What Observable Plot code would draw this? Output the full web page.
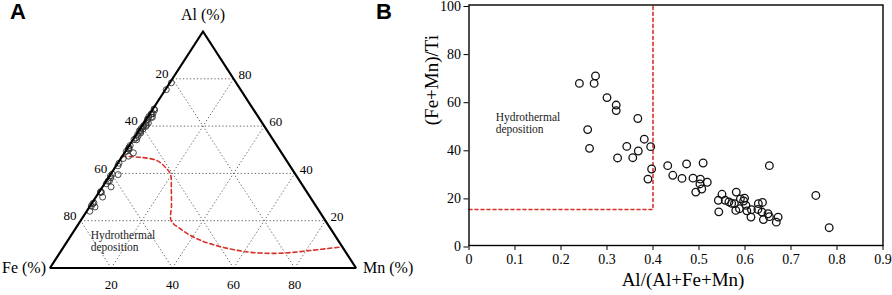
<!DOCTYPE html>
<html>
<head>
<meta charset="utf-8">
<script src="https://cdn.jsdelivr.net/npm/d3@7"></script>
<script src="https://cdn.jsdelivr.net/npm/@observablehq/plot@0.6"></script>
<style>
  html, body { margin: 0; padding: 0; background: #fff; }
  #wrap { position: relative; width: 892px; height: 295px; overflow: hidden; font-family: "Liberation Serif", serif; }
  #wrap svg { position: absolute; top: 0; overflow: visible; }
  .panel-letter { position: absolute; top: -1px; font: bold 22px "Liberation Sans", Arial, sans-serif; color: #000; }
</style>
</head>
<body>
<div id="wrap">
  <div class="panel-letter" style="left:10px">A</div>
  <div class="panel-letter" style="left:376px">B</div>
</div>
<script>
// ---------- data ----------
// Al/(Al+Fe+Mn) for each sample (also the Al fraction of the ternary plot)
const alRatio = [0.240,0.275,0.272,0.300,0.320,0.320,0.367,0.258,0.262,0.381,
                 0.343,0.395,0.368,0.323,0.356,0.397,0.389,0.432,0.473,0.509,
                 0.653,0.443,0.463,0.487,0.503,0.518,0.502,0.506,0.493,0.550,
                 0.542,0.581,0.557,0.565,0.571,0.590,0.599,0.597,0.577,0.580,
                 0.588,0.602,0.604,0.543,0.614,0.613,0.629,0.638,0.628,0.637,
                 0.650,0.653,0.640,0.672,0.668,0.754,0.783];
// (Fe+Mn)/Ti for each sample
const feMnTi = [67.4,70.5,67.4,61.5,58.4,56.1,52.8,48.2,40.4,44.2,
                41.2,41.1,39.3,36.4,36.5,31.8,27.6,33.2,33.9,34.3,
                33.2,29.2,27.9,28.0,27.6,26.3,25.6,23.5,22.2,21.3,
                18.8,22.2,18.8,18.1,17.5,19.4,19.7,18.5,17.4,14.6,
                15.3,16.7,14.4,14.0,14.9,11.8,17.4,17.9,15.0,13.9,
                13.2,12.0,10.8,11.8,9.7,20.8,7.4];
// Mn (%) of each sample in the ternary diagram
const mnPct = [1.0,0.6,0.4,2.2,0.5,0.8,0.6,1.8,0.4,0.8,
               2.8,2.5,1.0,0.4,0.6,0.5,0.3,0.6,2.0,0.4,
               0.6,0.4,0.8,2.9,0.5,0.3,0.7,0.4,0.3,0.6,
               1.2,0.5,0.9,0.4,1.1,0.3,1.4,0.6,0.8,0.2,
               1.0,0.5,1.3,0.3,0.7,1.5,0.4,1.2,0.6,1.6,
               0.5,1.0,0.3,0.4,0.8,0.3,0.5];

// ternary corners (Al, Fe, Mn in %)
const cornerAl = [100, 0, 0];
const cornerMn = [0, 0, 100];
const gridLevels = [20, 40, 60, 80];
// hydrothermal field boundary in the ternary (Al %, Mn %)
const boundAl = [47.2,46.8,45.4,42.5,39.7,32.7,26.4,20.0,16.5,13.0,10.2,7.0,6.2,7.4,8.8];
const boundMn = [0.0,6.2,12.3,16.5,19.5,23.3,26.5,29.6,34.4,40.5,47.4,59.8,71.1,81.4,90.0];

// panel B
const xTicks = [0,0.1,0.2,0.3,0.4,0.5,0.6,0.7,0.8,0.9];
const yTicks = [0,20,40,60,80,100];
const threshX = [0, 0.4, 0.4];
const threshY = [15, 15, 100];

// ---------- helpers ----------
const tx = (al, mn) => mn + al / 2;   // ternary -> cartesian x (0..100)
const ty = (al) => al;                // ternary -> cartesian y (0..100)

const wrap = document.getElementById("wrap");
const serif = "'Liberation Serif', 'Times New Roman', serif";

// ---------- panel A : ternary ----------
const corners = cornerAl.map((a, i) => ({x: tx(a, cornerMn[i]), y: ty(a)}));
const outline = [...corners, corners[0]];

const gridSegs = [];
for (const c of gridLevels) {
  gridSegs.push({x1: tx(c, 0), y1: ty(c), x2: tx(c, 100 - c), y2: ty(c)});               // Al = c
  gridSegs.push({x1: tx(0, 100 - c), y1: ty(0), x2: tx(100 - c, 0), y2: ty(100 - c)});   // Fe = c
  gridSegs.push({x1: tx(0, c), y1: ty(0), x2: tx(100 - c, c), y2: ty(100 - c)});         // Mn = c
}
const feLabels = gridLevels.map(f => ({x: tx(100 - f, 0), y: ty(100 - f), t: String(f)}));
const alLabels = gridLevels.map(a => ({x: tx(a, 100 - a), y: ty(a), t: String(a)}));
const mnLabels = gridLevels.map(m => ({x: tx(0, m), y: ty(0), t: String(m)}));

const ternPts = alRatio.map((r, i) => ({x: tx(r * 100, mnPct[i]), y: ty(r * 100)}));
const boundary = boundAl.map((a, i) => ({x: tx(a, boundMn[i]), y: ty(a)}));

const plotA = Plot.plot({
  width: 370, height: 295,
  marginLeft: 49.5, marginRight: 14.5, marginTop: 31, marginBottom: 27.5,
  x: {domain: [0, 100], axis: null},
  y: {domain: [0, 100], axis: null},
  style: {fontFamily: serif, fontSize: "13px", background: "transparent", color: "#000", overflow: "visible"},
  marks: [
    Plot.link(gridSegs, {x1: "x1", y1: "y1", x2: "x2", y2: "y2", stroke: "#666", strokeWidth: 1, strokeDasharray: "1.3,2.2"}),
    Plot.line(boundary, {x: "x", y: "y", curve: "catmull-rom", stroke: "#d8312a", strokeWidth: 1.6, strokeDasharray: "4,3"}),
    Plot.dot(ternPts, {x: "x", y: "y", r: 3, stroke: "#333", strokeWidth: 0.9, fill: "none"}),
    Plot.line(outline, {x: "x", y: "y", stroke: "#000", strokeWidth: 2.2, strokeLinejoin: "miter"}),
    Plot.text(feLabels, {x: "x", y: "y", text: "t", textAnchor: "end", dx: -4, dy: -5, fontSize: 13}),
    Plot.text(alLabels, {x: "x", y: "y", text: "t", textAnchor: "start", dx: 5, dy: -4, fontSize: 13}),
    Plot.text(mnLabels, {x: "x", y: "y", text: "t", textAnchor: "middle", dy: 17, fontSize: 13}),
    Plot.text(["Al (%)"], {x: tx(100, 0), y: ty(100), text: d => d, dy: -17, fontSize: 16}),
    Plot.text(["Fe (%)"], {x: tx(0, 0), y: ty(0), text: d => d, textAnchor: "end", dx: -4, fontSize: 16}),
    Plot.text(["Mn (%)"], {x: tx(0, 100), y: ty(0), text: d => d, textAnchor: "start", dx: 7, fontSize: 16}),
    Plot.text(["Hydrothermal\ndeposition"], {x: 13.3, y: 11.2, text: d => d, textAnchor: "start", lineAnchor: "middle", lineHeight: 1.05, fontSize: 11.5, fill: "#222"})
  ]
});
plotA.style.left = "0px";
wrap.appendChild(plotA);

// ---------- panel B : scatter ----------
const samples = alRatio.map((r, i) => ({x: r, y: feMnTi[i]}));
const thresh = threshX.map((x, i) => ({x, y: threshY[i]}));

const plotB = Plot.plot({
  width: 522, height: 295,
  marginLeft: 98.5, marginRight: 9.5, marginTop: 4.5, marginBottom: 50,
  x: {domain: [0, 0.9]},
  y: {domain: [0, 100]},
  style: {fontFamily: serif, fontSize: "14px", background: "transparent", color: "#000", overflow: "visible"},
  marks: [
    Plot.line(thresh, {x: "x", y: "y", stroke: "#d8312a", strokeWidth: 1.6, strokeDasharray: "3,3"}),
    Plot.dot(samples, {x: "x", y: "y", r: 3.8, stroke: "#111", strokeWidth: 1.3, fill: "none"}),
    Plot.frame({stroke: "#000", strokeWidth: 1.4}),
    Plot.axisX({ticks: xTicks, tickFormat: d => String(d), tickSize: 5, tickPadding: 4, label: null, fontSize: 14, fontFamily: serif}),
    Plot.axisY({ticks: yTicks, tickSize: 5, tickPadding: 3, label: null, fontSize: 14, fontFamily: serif, dy: 1.5}),
    Plot.text(["Al/(Al+Fe+Mn)"], {frameAnchor: "bottom", text: d => d, dy: 40, dx: 7, fontSize: 19}),
    Plot.text(["(Fe+Mn)/Ti"], {frameAnchor: "left", text: d => d, rotate: -90, dx: -37, fontSize: 19}),
    Plot.text(["Hydrothermal\ndeposition"], {x: 0.058, y: 50.7, text: d => d, textAnchor: "start", lineAnchor: "middle", lineHeight: 1.05, fontSize: 11.5, fill: "#222"})
  ]
});
plotB.style.left = "370px";
wrap.appendChild(plotB);
</script>
</body>
</html>
